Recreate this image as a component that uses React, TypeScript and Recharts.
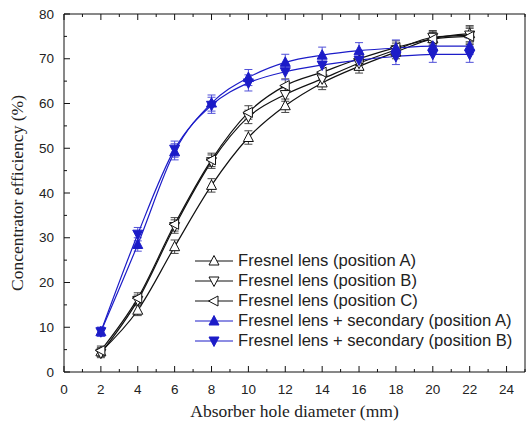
import React from 'react';
import {
  LineChart,
  Line,
  XAxis,
  YAxis,
  ErrorBar,
  Legend,
} from 'recharts';

// absorber hole diameter (mm)
const diameters = [2, 4, 6, 8, 10, 12, 14, 16, 18, 20, 22];

// concentrator efficiency (%)
const lensA = [4.5, 13.8, 28.0, 41.7, 52.4, 59.5, 64.6, 68.3, 71.5, 74.5, 75.6];
const lensB = [4.2, 16.0, 32.5, 47.0, 57.0, 62.0, 65.5, 69.0, 72.0, 74.8, 75.3];
const lensC = [4.8, 16.5, 33.0, 47.4, 58.0, 64.0, 67.0, 70.0, 72.5, 74.4, 75.0];
const secA = [9.0, 28.5, 49.2, 60.1, 65.8, 69.2, 70.8, 71.8, 72.4, 72.8, 72.8];
const secB = [9.0, 30.8, 49.8, 59.6, 64.6, 67.1, 68.6, 69.7, 70.5, 71.0, 71.0];

// error bars (±)
const lensAErr = [1.0, 1.2, 1.5, 1.5, 1.5, 1.5, 1.5, 1.5, 1.5, 1.5, 1.8];
const lensBErr = [1.0, 1.2, 1.5, 1.5, 1.5, 1.5, 1.5, 1.5, 1.5, 1.5, 1.8];
const lensCErr = [1.0, 1.2, 1.5, 1.5, 1.5, 1.5, 1.5, 1.5, 1.5, 1.5, 1.8];
const secAErr = [1.0, 1.5, 1.8, 1.8, 1.8, 1.8, 1.8, 1.8, 1.8, 1.8, 1.8];
const secBErr = [1.0, 1.5, 1.8, 1.8, 1.8, 1.8, 1.8, 1.8, 1.8, 1.8, 1.8];

const xTicks = [0, 1, 2, 3, 4, 5, 6, 7, 8, 9, 10, 11, 12, 13, 14, 15, 16, 17, 18, 19, 20, 21, 22, 23, 24, 25];
const yTicks = [0, 5, 10, 15, 20, 25, 30, 35, 40, 45, 50, 55, 60, 65, 70, 75, 80];

const seriesNames = [
  'Fresnel lens (position A)',
  'Fresnel lens (position B)',
  'Fresnel lens (position C)',
  'Fresnel lens + secondary (position A)',
  'Fresnel lens + secondary (position B)',
];

const data = diameters.map((d, i) => ({
  d,
  lensA: lensA[i],
  lensB: lensB[i],
  lensC: lensC[i],
  secA: secA[i],
  secB: secB[i],
  lensAErr: lensAErr[i],
  lensBErr: lensBErr[i],
  lensCErr: lensCErr[i],
  secAErr: secAErr[i],
  secBErr: secBErr[i],
}));

const BLUE = '#1c1cc8';
const BLUE_ERR = '#5050d8';
const SANS = '"Liberation Sans", Arial, sans-serif';
const SERIF = '"Liberation Serif", "Times New Roman", serif';

type Shape = 'up' | 'down' | 'left';

function markerPath(shape: Shape, cx: number, cy: number) {
  if (shape === 'up') return `M${cx},${cy - 5.5}L${cx + 5},${cy + 4}L${cx - 5},${cy + 4}Z`;
  if (shape === 'down') return `M${cx},${cy + 5.5}L${cx + 5},${cy - 4}L${cx - 5},${cy - 4}Z`;
  return `M${cx - 5.5},${cy}L${cx + 4},${cy - 5}L${cx + 4},${cy + 5}Z`;
}

const markers: Record<string, { shape: Shape; fill: string; stroke: string }> = {
  lensA: { shape: 'up', fill: '#fff', stroke: '#111' },
  lensB: { shape: 'down', fill: '#fff', stroke: '#111' },
  lensC: { shape: 'left', fill: '#fff', stroke: '#111' },
  secA: { shape: 'up', fill: BLUE, stroke: BLUE },
  secB: { shape: 'down', fill: BLUE, stroke: BLUE },
};

const makeDot = (key: string) => (props: any) => {
  const m = markers[key];
  if (props.cx == null || props.cy == null) return <g key={`${key}-${props.index}`} />;
  return (
    <path
      key={`${key}-${props.index}`}
      d={markerPath(m.shape, props.cx, props.cy)}
      fill={m.fill}
      stroke={m.stroke}
      strokeWidth={1}
    />
  );
};

const BottomTick = (props: any) => {
  const { x, y, payload } = props;
  const major = payload.value % 2 === 0;
  return (
    <g>
      <line x1={x} y1={y} x2={x} y2={y - (major ? 6 : 3)} stroke="#111" />
      {major && (
        <text x={x} y={y + 22} textAnchor="middle" fontSize={13.5} fontFamily={SANS} fill="#222">
          {payload.value}
        </text>
      )}
    </g>
  );
};

const TopTick = (props: any) => {
  const { x, y, payload } = props;
  const major = payload.value % 2 === 0;
  return <line x1={x} y1={y} x2={x} y2={y + (major ? 6 : 3)} stroke="#111" />;
};

const LeftTick = (props: any) => {
  const { x, y, payload } = props;
  const major = payload.value % 10 === 0;
  return (
    <g>
      <line x1={x} y1={y} x2={x + (major ? 6 : 3)} y2={y} stroke="#111" />
      {major && (
        <text x={x - 10} y={y + 4.7} textAnchor="end" fontSize={13.5} fontFamily={SANS} fill="#222">
          {payload.value}
        </text>
      )}
    </g>
  );
};

const RightTick = (props: any) => {
  const { x, y, payload } = props;
  const major = payload.value % 10 === 0;
  return <line x1={x} y1={y} x2={x - (major ? 6 : 3)} y2={y} stroke="#111" />;
};

const renderLegend = (props: any) => {
  const items = props.payload || [];
  return (
    <div style={{ fontFamily: SANS, fontSize: 16.6, color: '#222' }}>
      {items.map((item: any) => {
        const key = String(item.dataKey);
        const m = markers[key];
        const color = key.startsWith('sec') ? BLUE : '#111';
        return (
          <div key={key} style={{ display: 'flex', alignItems: 'center', height: 20, whiteSpace: 'nowrap' }}>
            <svg width={38} height={20} style={{ display: 'block' }}>
              <line x1={0} y1={10} x2={38} y2={10} stroke={color} strokeWidth={1.2} />
              <path d={markerPath(m.shape, 19, 10)} fill={m.fill} stroke={m.stroke} />
            </svg>
            <span style={{ marginLeft: 5 }}>{item.value}</span>
          </div>
        );
      })}
    </div>
  );
};

export default function App() {
  const keys = ['lensA', 'lensB', 'lensC', 'secA', 'secB'];
  return (
    <div style={{ position: 'absolute', left: 0, top: 0, background: '#fff' }}>
      <LineChart width={526} height={423} data={data} margin={{ top: 13, right: 0, bottom: 0, left: 0 }}>
        <XAxis
          dataKey="d"
          type="number"
          domain={[0, 25]}
          ticks={xTicks}
          interval={0}
          tickSize={0}
          tickMargin={0}
          tickLine={false}
          tick={<BottomTick />}
          axisLine={{ stroke: '#111' }}
          height={51}
          label={{
            value: 'Absorber hole diameter (mm)',
            position: 'insideBottom',
            offset: 6,
            style: { fontFamily: SERIF, fontSize: 17.5, fill: '#222' },
          }}
        />
        <XAxis
          xAxisId="top"
          orientation="top"
          dataKey="d"
          type="number"
          domain={[0, 25]}
          ticks={xTicks}
          interval={0}
          tickSize={0}
          tickMargin={0}
          tickLine={false}
          tick={<TopTick />}
          axisLine={{ stroke: '#111' }}
          height={1}
        />
        <YAxis
          type="number"
          domain={[0, 80]}
          ticks={yTicks}
          interval={0}
          tickSize={0}
          tickMargin={0}
          tickLine={false}
          tick={<LeftTick />}
          axisLine={{ stroke: '#111' }}
          width={64}
          label={{
            value: 'Concentrator efficiency (%)',
            angle: -90,
            position: 'insideLeft',
            offset: 17,
            style: { fontFamily: SERIF, fontSize: 17.5, fill: '#222', textAnchor: 'middle' },
          }}
        />
        <YAxis
          yAxisId="right"
          orientation="right"
          type="number"
          domain={[0, 80]}
          ticks={yTicks}
          interval={0}
          tickSize={0}
          tickMargin={0}
          tickLine={false}
          tick={<RightTick />}
          axisLine={{ stroke: '#111' }}
          width={1}
        />
        <Legend
          layout="vertical"
          align="center"
          verticalAlign="middle"
          content={renderLegend}
          wrapperStyle={{ left: 195, top: 251, width: 325, height: 100 }}
        />
        {keys.map((key, i) => {
          const isSec = key.startsWith('sec');
          return (
            <Line
              key={key}
              dataKey={key}
              name={seriesNames[i]}
              type="monotone"
              stroke={isSec ? BLUE : '#111'}
              strokeWidth={1.2}
              dot={makeDot(key)}
              activeDot={false}
              isAnimationActive={false}
            >
              <ErrorBar
                dataKey={`${key}Err`}
                direction="y"
                width={4}
                stroke={isSec ? BLUE_ERR : '#444'}
                strokeWidth={1}
                isAnimationActive={false}
              />
            </Line>
          );
        })}
      </LineChart>
    </div>
  );
}
